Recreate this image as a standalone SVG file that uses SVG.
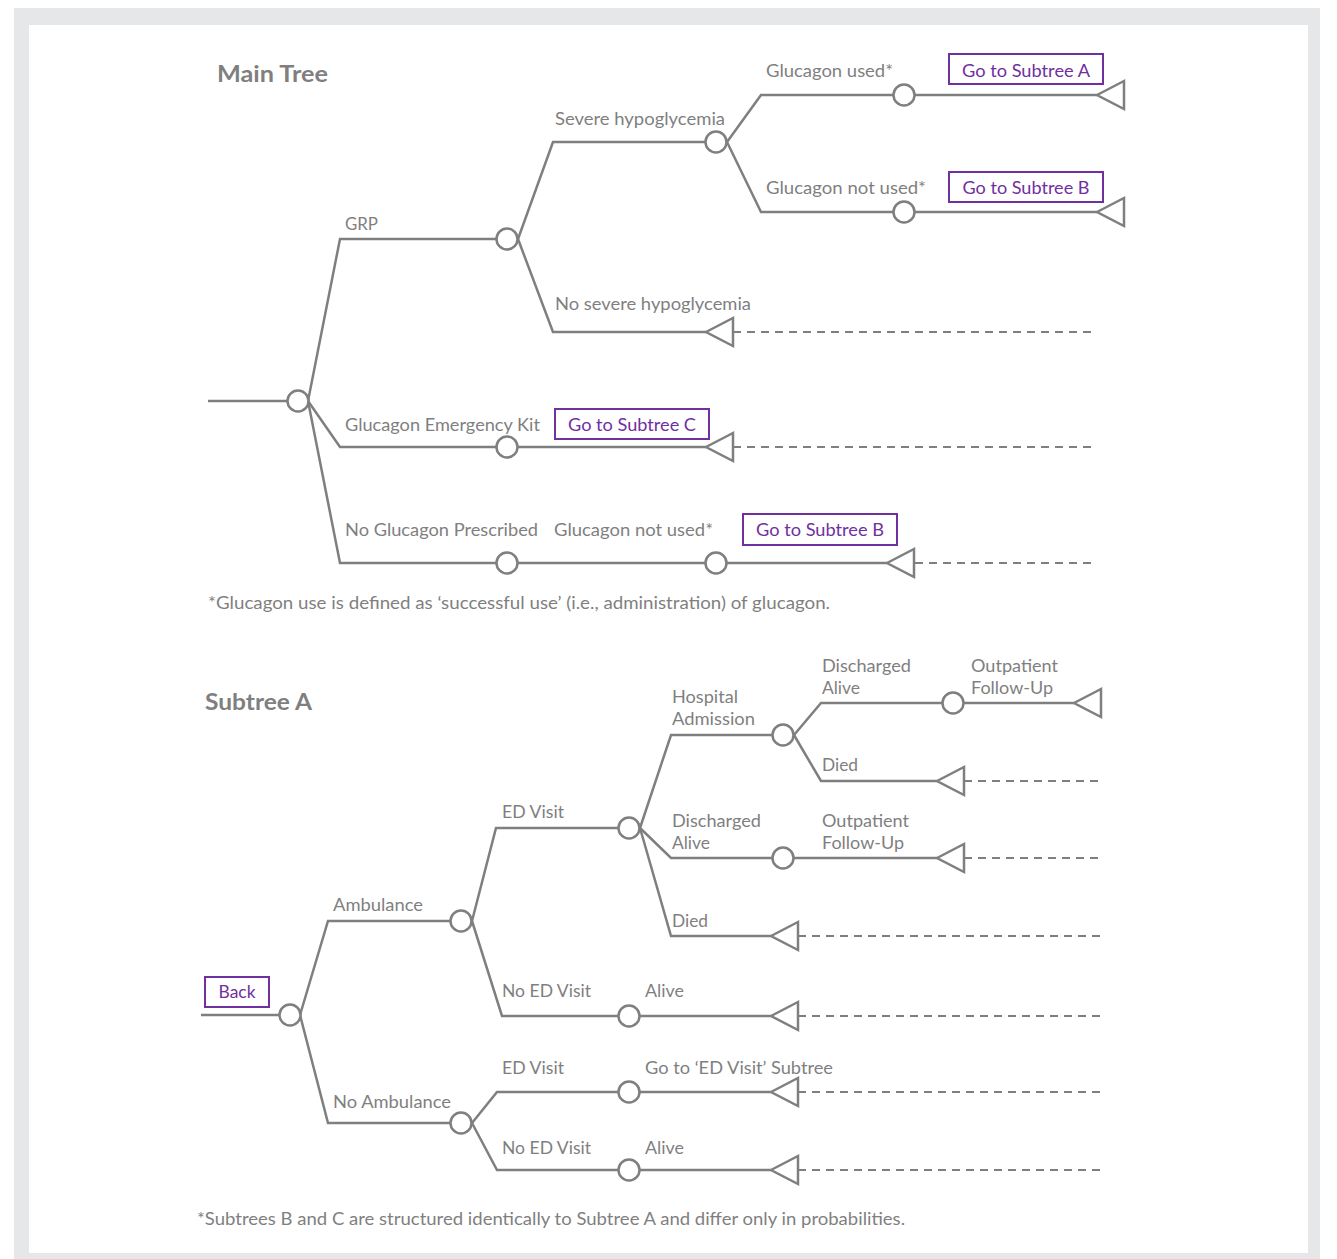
<svg xmlns="http://www.w3.org/2000/svg" xmlns:xlink="http://www.w3.org/1999/xlink" width="1337" height="1259" viewBox="0 0 1337 1259">
<defs>
<style>
.ln{fill:none;stroke:#7f7f7f;stroke-width:2.5;stroke-linejoin:miter}
.ds{fill:none;stroke:#7f7f7f;stroke-width:2;stroke-dasharray:8 6}
.nd{fill:#fff;stroke:#7f7f7f;stroke-width:2.5}
.tr{fill:#fff;stroke:#7f7f7f;stroke-width:2.5;stroke-linejoin:miter}
.bx{fill:#fff;stroke:#7030a0;stroke-width:2}
text{font-family:Lato,"Liberation Sans",sans-serif;font-size:18px;fill:#7f7f7f}
.bt{fill:#7030a0;text-anchor:middle}
.ti{font-weight:bold;font-size:23px}
.fn{font-size:17px}
</style>
<path id="tri" class="tr" d="M0,0 L27,-14 L27,14 Z"/>
</defs>
<rect x="14" y="8" width="1306" height="1251" fill="#e6e7e8"/>
<rect x="29" y="25" width="1279" height="1228" fill="#fff"/>

<g id="titles">
<text class="ti" x="217" y="82" textLength="111" lengthAdjust="spacingAndGlyphs">Main Tree</text>
<text class="ti" x="205" y="710" textLength="107" lengthAdjust="spacingAndGlyphs">Subtree A</text>
</g>

<g id="connectors">
<!-- main tree -->
<path class="ln" d="M208,401 H287.5"/>
<path class="ln" d="M308,401 L340,239 H496"/>
<path class="ln" d="M308,401 L340,447 H496"/>
<path class="ln" d="M518,447 H706"/>
<path class="ln" d="M308,401 L340,563 H496"/>
<path class="ln" d="M518,563 H705"/>
<path class="ln" d="M727,563 H887"/>
<path class="ln" d="M518,239 L553,142 H705"/>
<path class="ln" d="M518,239 L553,332 H706"/>
<path class="ln" d="M727,142 L761,95 H893"/>
<path class="ln" d="M915,95 H1097"/>
<path class="ln" d="M727,142 L761,212 H893"/>
<path class="ln" d="M915,212 H1097"/>
<path class="ds" d="M733,332 H1097"/>
<path class="ds" d="M733,447 H1097"/>
<path class="ds" d="M915,563 H1097"/>
<!-- subtree A -->
<path class="ln" d="M201,1015 H279.5"/>
<path class="ln" d="M300,1015 L328,921 H450"/>
<path class="ln" d="M300,1015 L328,1123 H450"/>
<path class="ln" d="M472,921 L496,828 H618"/>
<path class="ln" d="M472,921 L502,1016 H618"/>
<path class="ln" d="M640,1016 H771"/>
<path class="ds" d="M798,1016 H1100"/>
<path class="ln" d="M640,828 L671,735 H772"/>
<path class="ln" d="M640,828 L671,858 H772"/>
<path class="ln" d="M794,858 H937"/>
<path class="ds" d="M964,858 H1100"/>
<path class="ln" d="M640,828 L671,936 H771"/>
<path class="ds" d="M798,936 H1100"/>
<path class="ln" d="M794,735 L821,703 H942"/>
<path class="ln" d="M964,703 H1074"/>
<path class="ln" d="M794,735 L821,781 H937"/>
<path class="ds" d="M964,781 H1100"/>
<path class="ln" d="M472,1123 L497,1092 H618"/>
<path class="ln" d="M640,1092 H771"/>
<path class="ds" d="M798,1092 H1100"/>
<path class="ln" d="M472,1123 L497,1170 H618"/>
<path class="ln" d="M640,1170 H771"/>
<path class="ds" d="M798,1170 H1100"/>
</g>

<g id="main-nodes">
<g id="m-root"><circle class="nd" cx="298" cy="401" r="10.5"/></g>
<g id="m-grp"><circle class="nd" cx="507" cy="239" r="10.5"/></g>
<g id="m-gek"><circle class="nd" cx="507" cy="447" r="10.5"/></g>
<g id="m-ngp"><circle class="nd" cx="507" cy="563" r="10.5"/></g>
<g id="m-ngp-notused"><circle class="nd" cx="716" cy="563" r="10.5"/></g>
<g id="m-severe"><circle class="nd" cx="716" cy="142" r="10.5"/></g>
<g id="m-used"><circle class="nd" cx="904" cy="95" r="10.5"/></g>
<g id="m-notused"><circle class="nd" cx="904" cy="212" r="10.5"/></g>
<g id="m-t-used"><use xlink:href="#tri" x="1097" y="95"/></g>
<g id="m-t-notused"><use xlink:href="#tri" x="1097" y="212"/></g>
<g id="m-t-nosevere"><use xlink:href="#tri" x="706" y="332"/></g>
<g id="m-t-gek"><use xlink:href="#tri" x="706" y="447"/></g>
<g id="m-t-ngp"><use xlink:href="#tri" x="887" y="563"/></g>
<g id="box-a"><rect class="bx" x="949" y="54" width="154" height="30"/><text class="bt" x="1026" y="77" textLength="128" lengthAdjust="spacingAndGlyphs">Go to Subtree A</text></g>
<g id="box-b1"><rect class="bx" x="949" y="172" width="154" height="30"/><text class="bt" x="1026" y="194" textLength="127" lengthAdjust="spacingAndGlyphs">Go to Subtree B</text></g>
<g id="box-c"><rect class="bx" x="555" y="409" width="154" height="30"/><text class="bt" x="632" y="431" textLength="128" lengthAdjust="spacingAndGlyphs">Go to Subtree C</text></g>
<g id="box-b2"><rect class="bx" x="743" y="514" width="154" height="31"/><text class="bt" x="820" y="536" textLength="128" lengthAdjust="spacingAndGlyphs">Go to Subtree B</text></g>
</g>

<g id="main-labels">
<text x="766" y="77" textLength="127" lengthAdjust="spacingAndGlyphs">Glucagon used*</text>
<text x="555" y="125" textLength="170" lengthAdjust="spacingAndGlyphs">Severe hypoglycemia</text>
<text x="766" y="194" textLength="160" lengthAdjust="spacingAndGlyphs">Glucagon not used*</text>
<text x="345" y="230" textLength="33" lengthAdjust="spacingAndGlyphs">GRP</text>
<text x="555" y="310" textLength="196" lengthAdjust="spacingAndGlyphs">No severe hypoglycemia</text>
<text x="345" y="431" textLength="195" lengthAdjust="spacingAndGlyphs">Glucagon Emergency Kit</text>
<text x="345" y="536" textLength="193" lengthAdjust="spacingAndGlyphs">No Glucagon Prescribed</text>
<text x="554" y="536" textLength="159" lengthAdjust="spacingAndGlyphs">Glucagon not used*</text>
<text class="fn" x="208" y="609" textLength="622" lengthAdjust="spacingAndGlyphs">*Glucagon use is defined as ‘successful use’ (i.e., administration) of glucagon.</text>
</g>

<g id="subtree-nodes">
<g id="a-root"><circle class="nd" cx="290" cy="1015" r="10.5"/></g>
<g id="a-amb"><circle class="nd" cx="461" cy="921" r="10.5"/></g>
<g id="a-noamb"><circle class="nd" cx="461" cy="1123" r="10.5"/></g>
<g id="a-ed"><circle class="nd" cx="629" cy="828" r="10.5"/></g>
<g id="a-noed"><circle class="nd" cx="629" cy="1016" r="10.5"/></g>
<g id="a-hosp"><circle class="nd" cx="783" cy="735" r="10.5"/></g>
<g id="a-disch"><circle class="nd" cx="783" cy="858" r="10.5"/></g>
<g id="a-hosp-disch"><circle class="nd" cx="953" cy="703" r="10.5"/></g>
<g id="a-noamb-ed"><circle class="nd" cx="629" cy="1092" r="10.5"/></g>
<g id="a-noamb-noed"><circle class="nd" cx="629" cy="1170" r="10.5"/></g>
<g id="a-t1"><use xlink:href="#tri" x="1074" y="703"/></g>
<g id="a-t2"><use xlink:href="#tri" x="937" y="781"/></g>
<g id="a-t3"><use xlink:href="#tri" x="937" y="858"/></g>
<g id="a-t4"><use xlink:href="#tri" x="771" y="936"/></g>
<g id="a-t5"><use xlink:href="#tri" x="771" y="1016"/></g>
<g id="a-t6"><use xlink:href="#tri" x="771" y="1092"/></g>
<g id="a-t7"><use xlink:href="#tri" x="771" y="1170"/></g>
<g id="box-back"><rect class="bx" x="205" y="977" width="64" height="30"/><text class="bt" x="237" y="998" textLength="37" lengthAdjust="spacingAndGlyphs">Back</text></g>
</g>

<g id="subtree-labels">
<text x="822" y="672" textLength="89" lengthAdjust="spacingAndGlyphs">Discharged</text>
<text x="822" y="694" textLength="38" lengthAdjust="spacingAndGlyphs">Alive</text>
<text x="971" y="672" textLength="87" lengthAdjust="spacingAndGlyphs">Outpatient</text>
<text x="971" y="694" textLength="82" lengthAdjust="spacingAndGlyphs">Follow-Up</text>
<text x="672" y="703" textLength="66" lengthAdjust="spacingAndGlyphs">Hospital</text>
<text x="672" y="725" textLength="83" lengthAdjust="spacingAndGlyphs">Admission</text>
<text x="822" y="771" textLength="36" lengthAdjust="spacingAndGlyphs">Died</text>
<text x="502" y="818" textLength="62" lengthAdjust="spacingAndGlyphs">ED Visit</text>
<text x="672" y="827" textLength="89" lengthAdjust="spacingAndGlyphs">Discharged</text>
<text x="672" y="849" textLength="38" lengthAdjust="spacingAndGlyphs">Alive</text>
<text x="822" y="827" textLength="87" lengthAdjust="spacingAndGlyphs">Outpatient</text>
<text x="822" y="849" textLength="82" lengthAdjust="spacingAndGlyphs">Follow-Up</text>
<text x="333" y="911" textLength="90" lengthAdjust="spacingAndGlyphs">Ambulance</text>
<text x="672" y="927" textLength="36" lengthAdjust="spacingAndGlyphs">Died</text>
<text x="502" y="997" textLength="89" lengthAdjust="spacingAndGlyphs">No ED Visit</text>
<text x="645" y="997" textLength="39" lengthAdjust="spacingAndGlyphs">Alive</text>
<text x="502" y="1074" textLength="62" lengthAdjust="spacingAndGlyphs">ED Visit</text>
<text x="645" y="1074" textLength="188" lengthAdjust="spacingAndGlyphs">Go to ‘ED Visit’ Subtree</text>
<text x="333" y="1108" textLength="118" lengthAdjust="spacingAndGlyphs">No Ambulance</text>
<text x="502" y="1154" textLength="89" lengthAdjust="spacingAndGlyphs">No ED Visit</text>
<text x="645" y="1154" textLength="39" lengthAdjust="spacingAndGlyphs">Alive</text>
<text class="fn" x="197" y="1225" textLength="708" lengthAdjust="spacingAndGlyphs">*Subtrees B and C are structured identically to Subtree A and differ only in probabilities.</text>
</g>
</svg>
